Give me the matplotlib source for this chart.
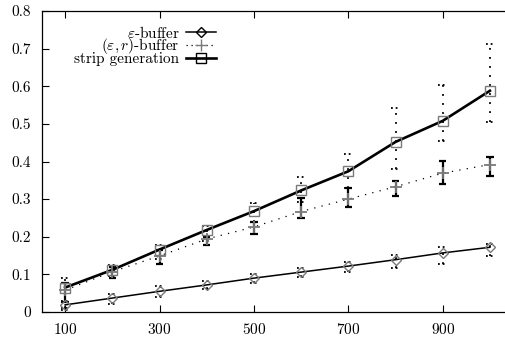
import matplotlib
matplotlib.use("Agg")
import matplotlib.pyplot as plt
from matplotlib.lines import Line2D
import numpy as np

plt.rcParams["font.family"] = ["cmr10", "DejaVu Serif"]
plt.rcParams["mathtext.fontset"] = "cm"
plt.rcParams["axes.formatter.use_mathtext"] = True

sizes = [100, 200, 300, 400, 500, 600, 700, 800, 900, 1000]

# epsilon-buffer
eps_mean = [0.019, 0.037, 0.055, 0.072, 0.090, 0.106, 0.122, 0.139, 0.157, 0.172]
eps_lo = [0.005, 0.022, 0.040, 0.060, 0.078, 0.092, 0.105, 0.118, 0.128, 0.150]
eps_hi = [0.030, 0.048, 0.070, 0.082, 0.100, 0.116, 0.133, 0.152, 0.172, 0.180]

# (epsilon, r)-buffer
er_mean = [0.058, 0.107, 0.149, 0.194, 0.226, 0.267, 0.300, 0.333, 0.369, 0.392]
er_lo = [0.027, 0.090, 0.128, 0.178, 0.207, 0.250, 0.280, 0.308, 0.340, 0.361]
er_hi = [0.078, 0.120, 0.165, 0.200, 0.240, 0.303, 0.330, 0.349, 0.401, 0.412]

# strip generation
strip_mean = [0.065, 0.112, 0.166, 0.218, 0.268, 0.323, 0.374, 0.452, 0.508, 0.588]
strip_lo = [0.010, 0.095, 0.140, 0.190, 0.240, 0.293, 0.330, 0.380, 0.454, 0.505]
strip_hi = [0.090, 0.125, 0.178, 0.228, 0.290, 0.360, 0.420, 0.542, 0.603, 0.712]

GRAY = "#7a7a7a"
CAP = 9  # half cap width in data units


def dotted_bars(ax, x, lo, hi):
    x = np.asarray(x, dtype=float)
    ax.vlines(x, lo, hi, colors="black", linestyles=(0, (1, 4)), linewidth=1.3, zorder=2)
    for y in (lo, hi):
        ax.hlines(y, x - CAP, x + CAP, colors="black", linestyles=(0, (1, 1.6)), linewidth=1.3, zorder=2)


fig = plt.figure(figsize=(5.05, 3.40), dpi=100)
ax = fig.add_axes([42 / 505, 1 - 312 / 340, 1 - 42 / 505, (312 - 11) / 340])

dotted_bars(ax, sizes, eps_lo, eps_hi)
dotted_bars(ax, sizes, strip_lo, strip_hi)

x = np.asarray(sizes, dtype=float)
ax.vlines(x, er_lo, er_hi, colors="black", linewidth=1.6, zorder=2)
for y in (er_lo, er_hi):
    ax.hlines(y, x - 8, x + 8, colors="black", linewidth=1.6, zorder=2)

ax.plot(sizes, eps_mean, color="black", linewidth=1.1, zorder=3)
ax.plot(sizes, er_mean, color="black", linewidth=0.9, linestyle=(0, (1, 5)), zorder=3)
ax.plot(sizes, strip_mean, color="black", linewidth=1.9, zorder=3)

ax.plot(sizes, eps_mean, linestyle="none", marker="D", markersize=5.5, markerfacecolor="none",
        markeredgecolor=GRAY, markeredgewidth=1.0, zorder=4)
ax.plot(sizes, er_mean, linestyle="none", marker="+", markersize=9, markeredgecolor=GRAY,
        markeredgewidth=1.3, zorder=4)
ax.plot(sizes, strip_mean, linestyle="none", marker="s", markersize=7, markerfacecolor="none",
        markeredgecolor=GRAY, markeredgewidth=1.0, zorder=4)

ax.set_xlim(51, 1032)
ax.set_ylim(0, 0.8)
ax.set_xticks([100, 300, 500, 700, 900])
ax.set_yticks([0, 0.1, 0.2, 0.3, 0.4, 0.5, 0.6, 0.7, 0.8])
ax.set_yticklabels(["0", "0.1", "0.2", "0.3", "0.4", "0.5", "0.6", "0.7", "0.8"])
ax.tick_params(axis="both", direction="in", length=5, width=0.8, labelsize=11)
ax.tick_params(axis="x", top=True, pad=7)
ax.tick_params(axis="y", pad=8)
ax.spines["right"].set_visible(False)
for s in ("left", "bottom", "top"):
    ax.spines[s].set_linewidth(0.9)

handles = [
    Line2D([], [], color="black", linewidth=1.1, marker="D", markersize=5.5,
           markerfacecolor="none", markeredgecolor="black"),
    Line2D([], [], color="black", linewidth=0.9, linestyle=(0, (1, 3)), marker="+",
           markersize=9, markeredgecolor=GRAY),
    Line2D([], [], color="black", linewidth=1.9, marker="s", markersize=7,
           markerfacecolor="none", markeredgecolor="black"),
]
labels = [r"$\varepsilon$-buffer", r"$(\varepsilon, r)$-buffer", "strip generation"]
ax.legend(handles, labels, loc="upper right", bbox_to_anchor=(0.376, 0.955), frameon=False,
          markerfirst=False, numpoints=1, handlelength=2.0, handletextpad=0.4,
          labelspacing=-0.28, fontsize=11, borderaxespad=0.0, borderpad=0.0)

fig.savefig("out.png", dpi=100)
